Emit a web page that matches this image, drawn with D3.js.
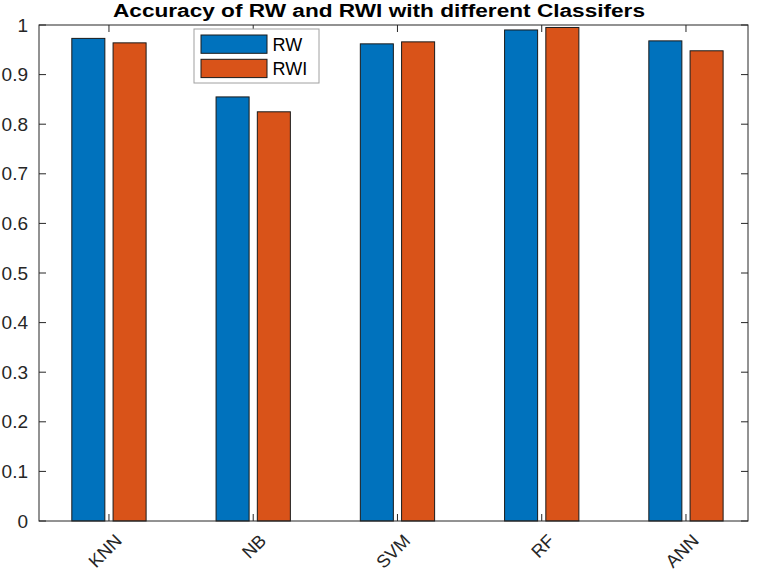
<html>
    <head>
        <script src="https://cdnjs.cloudflare.com/ajax/libs/d3/7.8.5/d3.min.js"></script>
        <style>
            body { margin: 0; background: #fff; }
            text { font-family: "Liberation Sans", Arial, sans-serif; }
        </style>
    </head>
    <body>
        <svg width="757" height="573"></svg>
        <script>
            const classifiers = ['KNN', 'NB', 'SVM', 'RF', 'ANN']
            const rwValues = [0.973, 0.855, 0.962, 0.990, 0.968]
            const rwiValues = [0.964, 0.825, 0.966, 0.995, 0.948]
            const seriesNames = ['RW', 'RWI']
            const seriesColors = ['#0072BD', '#D95319']
            const yTicks = [0, 0.1, 0.2, 0.3, 0.4, 0.5, 0.6, 0.7, 0.8, 0.9, 1]

            const plotLeft = 39, plotRight = 748, plotTop = 25, plotBottom = 521
            const svg = d3.select('svg')

            // MATLAB style: categories at 1..n
            const xScale = d3.scaleLinear().domain([0.515, 5.43]).range([plotLeft, plotRight])
            const yScale = d3.scaleLinear().domain([0, 1]).range([plotBottom, plotTop])
            const barOffset = 0.143
            const barWidth = xScale(1.229) - xScale(1)

            const series = [rwValues, rwiValues]
            series.forEach((vals, s) => {
                svg.append('g').selectAll('rect')
                  .data(vals).enter().append('rect')
                  .attr('x', (d, i) => xScale(i + 1 + (s === 0 ? -barOffset : barOffset)) - barWidth / 2)
                  .attr('y', d => yScale(d))
                  .attr('width', barWidth)
                  .attr('height', d => yScale(0) - yScale(d))
                  .attr('fill', seriesColors[s])
                  .attr('stroke', '#1a1a1a')
                  .attr('stroke-width', 1)
            })

            const axisColor = '#262626'
            const tickLen = 7
            const xTickVals = classifiers.map((_, i) => i + 1)

            // box with inward ticks on all sides
            const frame = svg.append('g').attr('stroke', axisColor).attr('fill', 'none')
            frame.append('rect').attr('x', plotLeft).attr('y', plotTop)
              .attr('width', plotRight - plotLeft).attr('height', plotBottom - plotTop).attr('stroke-width', 1)
            frame.selectAll('.yl').data(yTicks).enter().append('line')
              .attr('x1', plotLeft).attr('x2', plotLeft + tickLen)
              .attr('y1', d => yScale(d)).attr('y2', d => yScale(d))
            frame.selectAll('.yr').data(yTicks).enter().append('line')
              .attr('x1', plotRight).attr('x2', plotRight - tickLen)
              .attr('y1', d => yScale(d)).attr('y2', d => yScale(d))
            frame.selectAll('.xb').data(xTickVals).enter().append('line')
              .attr('x1', d => xScale(d)).attr('x2', d => xScale(d))
              .attr('y1', plotBottom).attr('y2', plotBottom - tickLen)
            frame.selectAll('.xt').data(xTickVals).enter().append('line')
              .attr('x1', d => xScale(d)).attr('x2', d => xScale(d))
              .attr('y1', plotTop).attr('y2', plotTop + tickLen)

            svg.append('g').selectAll('text').data(yTicks).enter().append('text')
              .attr('x', plotLeft - 11).attr('y', d => yScale(d)).attr('dy', '0.35em')
              .attr('text-anchor', 'end').attr('font-size', 19).attr('fill', axisColor)
              .text(d => d3.format('~g')(d))

            svg.append('g').selectAll('text').data(classifiers).enter().append('text')
              .attr('transform', (d, i) => `translate(${xScale(i + 1) + 5}, ${plotBottom + 12}) rotate(-45)`)
              .attr('text-anchor', 'end').attr('dy', '0.7em').attr('font-size', 18).attr('fill', axisColor)
              .text(d => d)

            svg.append('text').attr('x', 379).attr('y', 17)
              .attr('text-anchor', 'middle').attr('font-size', 18).attr('font-weight', 'bold').attr('fill', '#000')
              .attr('textLength', 532).attr('lengthAdjust', 'spacingAndGlyphs')
              .text('Accuracy of RW and RWI with different Classifers')

            // legend
            const legend = svg.append('g')
            legend.append('rect').attr('x', 194).attr('y', 29).attr('width', 125).attr('height', 54)
              .attr('fill', '#fff').attr('stroke', '#a0a0a0')
            seriesNames.forEach((name, s) => {
                legend.append('rect').attr('x', 201).attr('y', 35 + s * 24.3).attr('width', 66).attr('height', 18.3)
                  .attr('fill', seriesColors[s]).attr('stroke', '#1a1a1a')
                legend.append('text').attr('x', 272.5).attr('y', 44.5 + s * 24.3).attr('dy', '0.35em')
                  .attr('font-size', 18).attr('fill', '#000').text(name)
            })
        </script>
    </body>
</html>
